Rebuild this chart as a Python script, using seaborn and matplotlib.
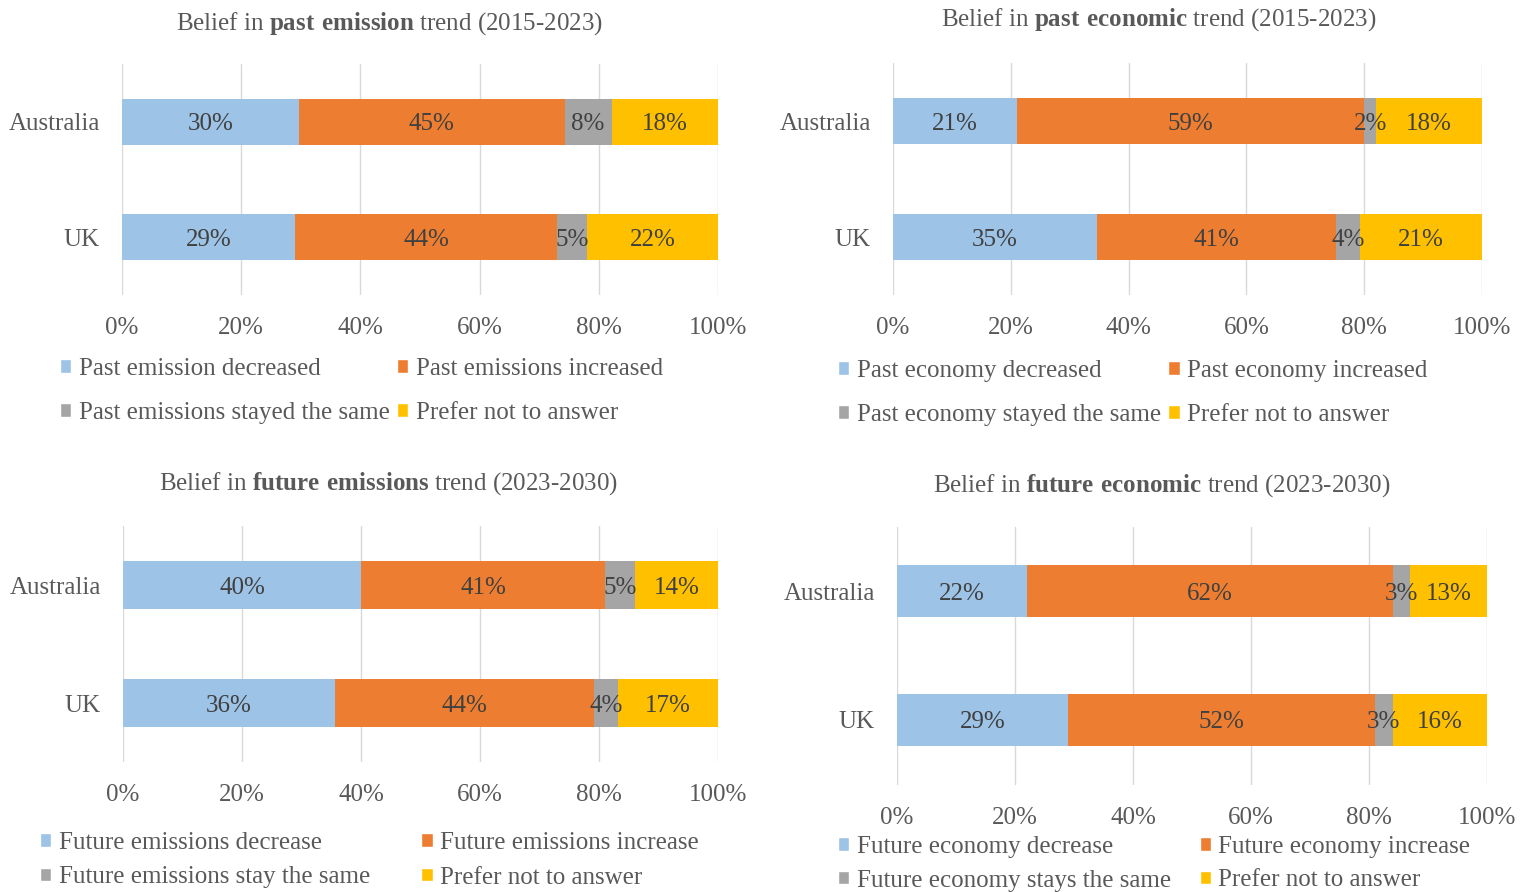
import matplotlib
matplotlib.use("Agg")
import matplotlib.pyplot as plt
import seaborn as sns
import numpy as np
from matplotlib.patches import Patch

# --- data (rows = answer, columns = country) ---
countries = ["Australia", "UK"]
tick_values = [0, 20, 40, 60, 80, 100]
colors = ["#9DC3E6", "#ED7D31", "#A5A5A5", "#FFC000"]

past_emission = [[30, 29], [45, 44], [8, 5], [18, 22]]
past_emission_labels = ["Past emission decreased", "Past emissions increased",
                        "Past emissions stayed the same", "Prefer not to answer"]

past_economy = [[21, 35], [59, 41], [2, 4], [18, 21]]
past_economy_labels = ["Past economy decreased", "Past economy increased",
                       "Past economy stayed the same", "Prefer not to answer"]

future_emission = [[40, 36], [41, 44], [5, 4], [14, 17]]
future_emission_labels = ["Future emissions decrease", "Future emissions increase",
                          "Future emissions stay the same", "Prefer not to answer"]

future_economy = [[22, 29], [62, 52], [3, 3], [13, 16]]
future_economy_labels = ["Future economy decrease", "Future economy increase",
                         "Future economy stays the same", "Prefer not to answer"]

W, H = 1530, 892
TEXT = "#595959"
FS = 18

sns.set_style("white")
plt.rcParams["font.family"] = ["Liberation Serif", "DejaVu Serif"]
plt.rcParams["mathtext.fontset"] = "custom"
plt.rcParams["mathtext.rm"] = "Liberation Serif"
plt.rcParams["mathtext.bf"] = "Liberation Serif:bold"


def draw_panel(fig, box, title, title_xy, values, labels, leg_xy, colspace, rowspace):
    """One stacked 100% bar chart with its own title and legend."""
    x0, y0, x1, y1 = box
    ax = fig.add_axes([x0 / W, 1 - y1 / H, (x1 - x0) / W, (y1 - y0) / H])
    vals = np.array(values, dtype=float)
    share = vals / vals.sum(axis=0) * 100
    cum = share.cumsum(axis=0)
    # draw cumulative bars from the right-most segment back to the first
    for i in range(len(vals) - 1, -1, -1):
        sns.barplot(x=cum[i], y=countries, color=colors[i], width=0.4,
                    saturation=1, linewidth=0, orient="h", ax=ax)
    for i in range(len(vals)):
        for j in range(len(countries)):
            ax.text(cum[i][j] - share[i][j] / 2, j, f"{values[i][j]}%",
                    ha="center", va="center_baseline", fontsize=FS, color="#404040")
    ax.set_xlim(0, 100)
    ax.set_ylim(1.5, -0.5)
    ax.set_xticks(tick_values)
    ax.set_xticklabels([f"{t}%" for t in tick_values])
    ax.set_xlabel("")
    ax.set_ylabel("")
    ax.grid(axis="x", color="#D9D9D9", linewidth=1)
    ax.set_axisbelow(True)
    for s in ax.spines.values():
        s.set_visible(False)
    ax.tick_params(axis="x", length=0, pad=16, labelsize=FS, colors=TEXT)
    ax.tick_params(axis="y", length=0, pad=16, labelsize=FS, colors=TEXT)

    fig.text(title_xy[0] / W, 1 - title_xy[1] / H, title, ha="center", va="center",
             fontsize=FS, color=TEXT)

    order = [0, 2, 1, 3]
    handles = [Patch(facecolor=colors[k]) for k in order]
    fig.legend(handles, [labels[k] for k in order], loc="upper left",
               bbox_to_anchor=(leg_xy[0] / W, 1 - leg_xy[1] / H), ncol=2,
               frameon=False, fontsize=FS, labelcolor=TEXT,
               handlelength=0.45, handleheight=0.45, handletextpad=0.3,
               columnspacing=colspace, labelspacing=rowspace,
               borderpad=0, borderaxespad=0)
    return ax


fig = plt.figure(figsize=(W / 100, H / 100), dpi=100)

draw_panel(fig, (122, 64.5, 718, 294.5),
           r"Belief in $\mathbf{past\ emission}$ trend (2015-2023)", (390, 24),
           past_emission, past_emission_labels, (60, 358), 0.3, 0.87)
draw_panel(fig, (893, 63, 1482, 295),
           r"Belief in $\mathbf{past\ economic}$ trend (2015-2023)", (1159, 20),
           past_economy, past_economy_labels, (838, 360), 0.3, 0.87)
draw_panel(fig, (123, 526, 718, 762),
           r"Belief in $\mathbf{future\ emissions}$ trend (2023-2030)", (388, 484),
           future_emission, future_emission_labels, (40, 832), 2.05, 0.5)
draw_panel(fig, (897, 526.5, 1487, 784.5),
           r"Belief in $\mathbf{future\ economic}$ trend (2023-2030)", (1162, 486),
           future_economy, future_economy_labels, (838, 836), 1.15, 0.46)

fig.savefig("out.png", dpi=100)
